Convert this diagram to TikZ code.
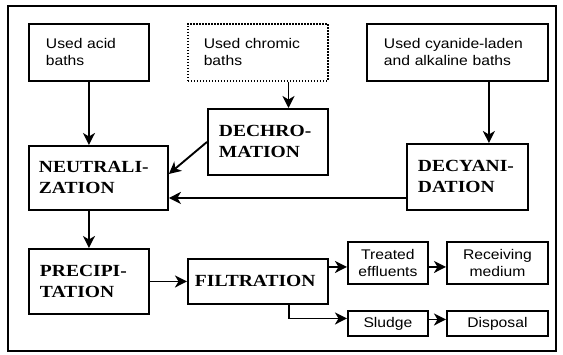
\documentclass[tikz,border=0pt]{standalone}
\usepackage{fontspec}
\usetikzlibrary{arrows.meta,calc}
\newfontfamily\boxsans{Liberation Sans}[FakeStretch=1.12]
\newfontfamily\procserif{Liberation Serif}[FakeStretch=1.15]
\begin{document}
\begin{tikzpicture}[x=1pt,y=-1pt,
  box/.style={draw,line width=1.9pt,anchor=north west,inner ysep=0pt,align=left},
  inbox/.style={box,font=\boxsans\fontsize{14}{17}\selectfont},
  procbox/.style={box,font=\procserif\bfseries\fontsize{17}{21}\selectfont},
  smallbox/.style={draw,line width=1.9pt,anchor=north west,inner sep=0pt,align=center,font=\boxsans\fontsize{14}{17}\selectfont},
  arr/.style={line width=1.9pt,-{Stealth[length=12pt,width=12pt,inset=3.5pt]}}]
\useasboundingbox (0,0) rectangle (563,354);
\draw[line width=1.9pt] (8,6) rectangle (556,351);
% inputs
\node[inbox,inner xsep=17pt,text width=86pt,minimum height=57pt] (acid) at (28,23) {Used acid\\baths};
\node[inbox,inner xsep=16pt,text width=108pt,minimum height=57pt,line width=1.5pt,dash pattern=on 1.5pt off 1.5pt] (chrom) at (187,23) {Used chromic\\baths};
\node[inbox,inner xsep=17pt,text width=147pt,minimum height=57pt] (cyan) at (366,23) {Used cyanide-laden\\and alkaline baths};
% processes
\node[procbox,inner xsep=11pt,text width=98pt,minimum height=66pt] (dechrom) at (207,108) {\mbox{DECHRO-}\\\mbox{MATION}};
\node[procbox,inner xsep=10pt,text width=119pt,minimum height=64pt] (neutral) at (28,145) {\mbox{NEUTRALI-}\\\mbox{ZATION}};
\node[procbox,inner xsep=11pt,text width=99pt,minimum height=66pt] (decyan) at (406,143) {\mbox{DECYANI-}\\\mbox{DATION}};
\node[procbox,inner xsep=11pt,text width=98pt,minimum height=65pt] (precip) at (28,248) {\mbox{PRECIPI-}\\\mbox{TATION}};
\node[procbox,inner xsep=7pt,text width=126pt,minimum height=45pt] (filt) at (187,258) {FILTRATION};
% outputs
\node[smallbox,minimum width=80pt,minimum height=42pt] (treated) at (347,241) {Treated\\effluents};
\node[smallbox,minimum width=101pt,minimum height=42pt] (recv) at (446,241) {Receiving\\medium};
\node[smallbox,minimum width=80pt,minimum height=25pt] (sludge) at (347,310) {Sludge};
\node[smallbox,minimum width=101pt,minimum height=25pt] (disp) at (446,310) {Disposal};
% connectors
\draw[arr] (acid.south) -- (acid.south |- neutral.north);
\draw[arr] ([xshift=-40pt]chrom.south east) -- ([xshift=-40pt]chrom.south east |- dechrom.north);
\draw[arr] ([xshift=-60pt]cyan.south east) -- ([xshift=-60pt]cyan.south east |- decyan.north);
\draw[arr] (dechrom.west) -- ([yshift=4pt]neutral.east);
\draw[arr] ([yshift=-21pt]decyan.west) -- ([yshift=-21pt]decyan.west -| neutral.east);
\draw[arr] (precip.north |- neutral.south) -- (precip.north);
\draw[arr] (precip.east) -- (precip.east -| filt.west);
\draw[arr] ([yshift=-4pt]treated.west -| filt.east) -- ([yshift=-4pt]treated.west);
\draw[arr] ([yshift=-4pt]treated.east) -- ([yshift=-4pt]treated.east -| recv.west);
\draw[arr] ([xshift=-40pt]filt.south east) |- ([yshift=5pt]sludge.west);
\draw[arr] ([yshift=4pt]sludge.east) -- ([yshift=4pt]sludge.east -| disp.west);
\end{tikzpicture}
\end{document}
